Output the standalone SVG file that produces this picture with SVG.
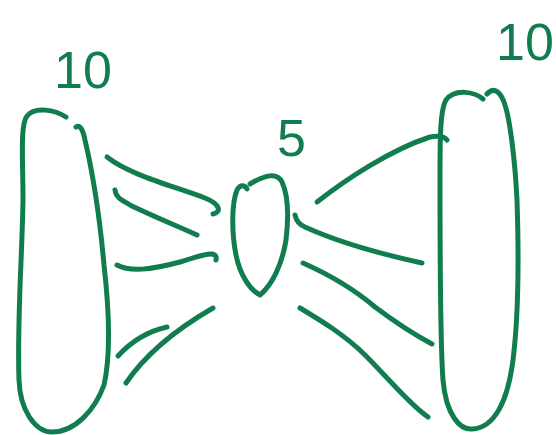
<svg xmlns="http://www.w3.org/2000/svg" width="556" height="435" viewBox="0 0 556 435">
<style>
.s{fill:none;stroke:#117d4f;stroke-width:5;stroke-linecap:round;stroke-linejoin:round}
.t{fill:#117d4f;font-family:"Liberation Sans",Arial,sans-serif;font-size:52px}
</style>
<rect width="556" height="435" fill="#ffffff"/>
<g id="left">
<path class="s" d="M66,117 C55,110 35,106 27,116 C20,125 23,160 23,200 C22,260 17,320 19,380 C20,410 35,432 52,432 C75,432 95,410 104,385 C112,350 108,300 104,265 C100,220 92,170 85,140 C83,130 80,124 76,127"/>
<text class="t" x="54" y="88">10</text>
</g>
<g id="middle">
<path class="s" d="M247,189 C245,185 240,184 237,190 C231,205 232,235 236,255 C240,275 250,290 260,295 C272,285 282,265 286,240 C289,215 288,195 282,182 C277,172 265,175 250,184"/>
<text class="t" x="277" y="156">5</text>
</g>
<g id="right">
<path class="s" d="M483,99 C475,92 455,88 446,100 C440,110 440,140 440,180 C440,260 440,340 443,380 C446,415 460,430 472,429 C495,428 508,400 513,360 C518,320 519,260 517,200 C515,160 510,120 505,105 C501,92 494,86 487,94"/>
<text class="t" x="496" y="60">10</text>
</g>
<g id="connectors">
<path class="s" d="M107,157 C130,175 170,185 205,198 C220,204 222,212 213,214"/>
<path class="s" d="M115,190 C116,198 122,200 130,205 C150,215 175,225 197,235"/>
<path class="s" d="M117,265 C130,272 150,270 180,262 C205,254 218,250 216,260"/>
<path class="s" d="M118,356 C128,345 145,332 167,327"/>
<path class="s" d="M126,383 C145,355 175,330 213,308"/>
<path class="s" d="M317,202 C345,180 390,150 430,137 C440,135 445,137 447,140"/>
<path class="s" d="M295,215 C296,220 298,224 305,227 C340,243 390,256 422,263"/>
<path class="s" d="M303,263 C330,275 355,290 375,307 C395,322 415,335 432,344"/>
<path class="s" d="M300,308 C320,320 345,335 365,355 C390,380 410,405 428,417"/>
</g>
</svg>
